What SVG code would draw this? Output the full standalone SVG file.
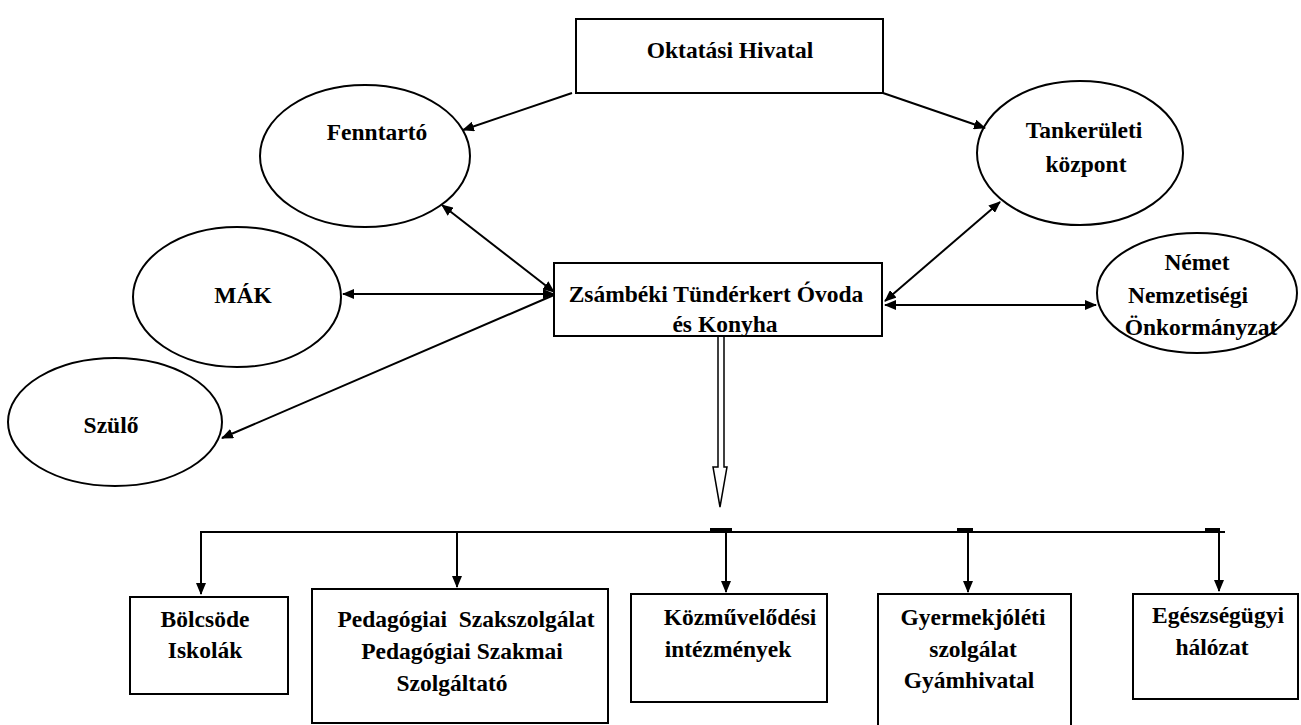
<svg xmlns="http://www.w3.org/2000/svg" width="1301" height="725" viewBox="0 0 1301 725">
<defs>
<style>
.n{fill:none;stroke:#000;stroke-width:2}
.t{font-family:"Liberation Serif","Times New Roman",serif;font-weight:bold;font-size:23.5px;fill:#000;text-anchor:middle}
.c{fill:none;stroke:#000;stroke-width:2}
</style>
<marker id="ah" viewBox="0 0 12 10" refX="11" refY="5" markerWidth="12" markerHeight="10" markerUnits="userSpaceOnUse" orient="auto-start-reverse">
<path d="M0,0 L12,5 L0,10 Z" fill="#000"/>
</marker>
</defs>
<rect width="1301" height="725" fill="#fff"/>

<g id="connectors">
<line class="c" x1="572" y1="93" x2="463" y2="130" marker-end="url(#ah)"/>
<line class="c" x1="883" y1="93" x2="985" y2="128" marker-end="url(#ah)"/>
<line class="c" x1="442" y1="205" x2="554" y2="292" marker-start="url(#ah)" marker-end="url(#ah)"/>
<line class="c" x1="343" y1="294" x2="554" y2="294" marker-start="url(#ah)" marker-end="url(#ah)"/>
<line class="c" x1="222" y1="438" x2="554" y2="295" marker-start="url(#ah)"/>
<line class="c" x1="885" y1="301" x2="1000" y2="202" marker-start="url(#ah)" marker-end="url(#ah)"/>
<line class="c" x1="885" y1="305" x2="1096" y2="305" marker-start="url(#ah)" marker-end="url(#ah)"/>
<path d="M718,336 L718,467 L713,467 L720,507 L727,467 L724,467 L724,336" fill="#fff" stroke="#000" stroke-width="1.5"/>
<line class="c" x1="200" y1="532" x2="1225" y2="532"/>
<rect x="710" y="528" width="22" height="3" fill="#000"/>
<rect x="957" y="528" width="16" height="3" fill="#000"/>
<rect x="1205" y="528" width="15" height="3" fill="#000"/>
<line class="c" x1="201" y1="532" x2="201" y2="594" marker-end="url(#ah)"/>
<line class="c" x1="457" y1="532" x2="457" y2="587" marker-end="url(#ah)"/>
<line class="c" x1="726" y1="532" x2="726" y2="592" marker-end="url(#ah)" stroke-width="1.5"/>
<line class="c" x1="968" y1="532" x2="968" y2="592" marker-end="url(#ah)"/>
<line class="c" x1="1219" y1="532" x2="1219" y2="591" marker-end="url(#ah)" stroke-width="1.5"/>
</g>

<g id="oktatasi">
<rect class="n" x="576" y="19" width="307" height="74"/>
<text class="t" x="730" y="58">Oktatási Hivatal</text>
</g>
<g id="fenntarto">
<ellipse class="n" cx="365" cy="156" rx="105" ry="71"/>
<text class="t" x="377" y="140">Fenntartó</text>
</g>
<g id="tankeruleti">
<ellipse class="n" cx="1080" cy="153" rx="103" ry="72"/>
<text class="t" x="1084" y="138">Tankerületi</text>
<text class="t" x="1086" y="172">központ</text>
</g>
<g id="mak">
<ellipse class="n" cx="237" cy="297" rx="104" ry="70"/>
<text class="t" x="243" y="303">MÁK</text>
</g>
<g id="szulo">
<ellipse class="n" cx="115" cy="422" rx="107" ry="64"/>
<text class="t" x="111" y="433">Szülő</text>
</g>
<g id="zsambeki">
<rect class="n" x="554" y="263" width="328" height="73"/>
<text class="t" x="716" y="302">Zsámbéki Tündérkert Óvoda</text>
<text class="t" x="725" y="332">és Konyha</text>
</g>
<g id="nemet">
<ellipse class="n" cx="1197" cy="293" rx="100" ry="60"/>
<text class="t" x="1197" y="270">Német</text>
<text class="t" x="1188" y="303">Nemzetiségi</text>
<text class="t" x="1201" y="335">Önkormányzat</text>
</g>
<g id="bolcsode">
<rect class="n" x="130" y="597" width="158" height="97"/>
<text class="t" x="205" y="627">Bölcsöde</text>
<text class="t" x="205" y="658">Iskolák</text>
</g>
<g id="pedagogiai">
<rect class="n" x="312" y="589" width="296" height="134"/>
<text class="t" x="466" y="627" xml:space="preserve">Pedagógiai  Szakszolgálat</text>
<text class="t" x="462" y="659">Pedagógiai Szakmai</text>
<text class="t" x="452" y="691">Szolgáltató</text>
</g>
<g id="kozmuvelodesi">
<rect class="n" x="631" y="594" width="196" height="108"/>
<text class="t" x="740" y="625">Közművelődési</text>
<text class="t" x="728" y="657">intézmények</text>
</g>
<g id="gyermekjoleti">
<rect class="n" x="878" y="594" width="193" height="140"/>
<text class="t" x="973" y="625">Gyermekjóléti</text>
<text class="t" x="973" y="657">szolgálat</text>
<text class="t" x="969" y="688">Gyámhivatal</text>
</g>
<g id="egeszsegugyi">
<rect class="n" x="1133" y="594" width="165" height="105"/>
<text class="t" x="1218" y="623">Egészségügyi</text>
<text class="t" x="1212" y="655">hálózat</text>
</g>
</svg>
